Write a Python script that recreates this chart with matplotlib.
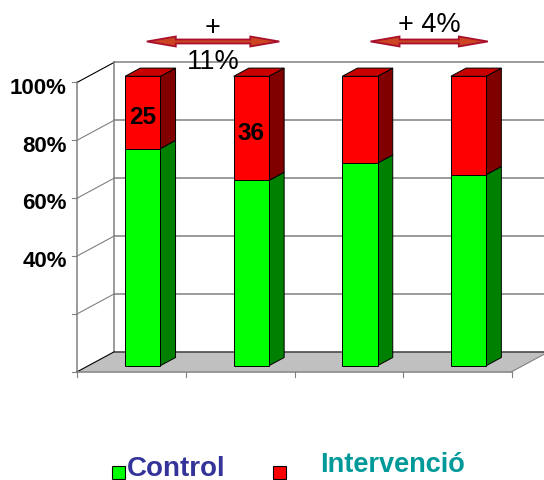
"""
Gràfic de barres apilades (100%) amb aspecte 3D: Control vs Intervenció.
"""

import matplotlib
matplotlib.use("Agg")
import matplotlib.pyplot as plt
from matplotlib.patches import Polygon, Rectangle

plt.rcParams["font.family"] = ["Liberation Sans", "DejaVu Sans"]

# Dades
grups = [0, 1, 2, 3]
control = [75, 64, 70, 66]
intervencio = [25, 36, 30, 34]
etiquetes_barres = ["25", "36", "", ""]
y_ticks = [0, 20, 40, 60, 80, 100]
y_labels = ["", "", "40%", "60%", "80%", "100%"]
diferencies = ["+\n11%", "+ 4%"]

# Colors
VERD = "#00FF00"
VERD_COSTAT = "#008000"
VERMELL = "#FF0000"
VERMELL_SOSTRE = "#C80000"
VERMELL_COSTAT = "#800000"
GRIS_TERRA = "#C0C0C0"
GRIS_LINIA = "#808080"
FLETXA = "#A8102C"
FLETXA_INT = "#CC4422"

# Profunditat (en unitats de dades) i geometria de les barres
DX, DY = 0.341, 6.91
F0, F1 = 0.30, 0.71
AMPLE = 0.325
# escala aproximada: 1 píxel en unitats x / y
PX_X, PX_Y = 1 / 108.6, 1 / 2.894


def px(x, y):
    """Píxels de la imatge -> coordenades de la figura."""
    return x / 544, 1 - y / 481


def cara(ax, punts, color, z=3):
    ax.add_patch(Polygon(punts, closed=True, facecolor=color, edgecolor="black",
                         linewidth=0.7, zorder=z))


def barra_3d(ax, xc, y0, y1, c_front, c_costat, c_sostre=None):
    ox0, oy0 = F0 * DX, F0 * DY
    ox1, oy1 = F1 * DX, F1 * DY
    xl, xr = xc - AMPLE / 2 + ox0, xc + AMPLE / 2 + ox0
    # costat dret
    cara(ax, [(xr, y0 + oy0), (xr + ox1 - ox0, y0 + oy1),
              (xr + ox1 - ox0, y1 + oy1), (xr, y1 + oy0)], c_costat)
    # cara frontal
    cara(ax, [(xl, y0 + oy0), (xr, y0 + oy0), (xr, y1 + oy0), (xl, y1 + oy0)], c_front)
    if c_sostre:
        cara(ax, [(xl, y1 + oy0), (xr, y1 + oy0), (xr + ox1 - ox0, y1 + oy1),
                  (xl + ox1 - ox0, y1 + oy1)], c_sostre)


def fletxa_doble(ax, xa, xb, y, llarg=29, alt=5, gruix=2):
    hl, hh, sh = llarg * PX_X, alt * PX_Y, gruix * PX_Y
    punts = [(xa, y), (xa + hl, y + hh), (xa + hl, y + sh), (xb - hl, y + sh),
             (xb - hl, y + hh), (xb, y), (xb - hl, y - hh), (xb - hl, y - sh),
             (xa + hl, y - sh), (xa + hl, y - hh)]
    ax.add_patch(Polygon(punts, closed=True, facecolor=FLETXA_INT, edgecolor=FLETXA,
                         linewidth=1.3, joinstyle="miter", zorder=6))


fig = plt.figure(figsize=(5.44, 4.81), dpi=100)
ax = fig.add_axes([0, 0, 1, 1])
ax.set_xlim(-1.2118, 3.7974)
ax.set_ylim(-37.42, 128.78)
ax.axis("off")

x_min, x_max = grups[0] - 0.5, grups[-1] + 0.5
lw = 0.8

# Terra gris
ax.add_patch(Polygon([(x_min, 0), (x_max, 0), (x_max + DX, DY), (x_min + DX, DY)],
                     facecolor=GRIS_TERRA, edgecolor="none", zorder=1))

# Graella a la paret del fons i a la paret esquerra
for v in y_ticks[1:]:
    ax.plot([x_min + DX, x_max + DX + 1], [v + DY, v + DY], color=GRIS_LINIA, lw=1.1, zorder=1)
    ax.plot([x_min - 0.05, x_min], [v, v], color=GRIS_LINIA, lw=lw, zorder=1)
    col = "black" if v == 100 else GRIS_LINIA
    ax.plot([x_min, x_min + DX], [v, v + DY], color=col, lw=lw, zorder=1)
ax.plot([x_min - 0.05, x_min], [0, 0], color=GRIS_LINIA, lw=lw, zorder=1)

# Vores de les parets i del terra
ax.plot([x_min, x_min], [0, 100], color=GRIS_LINIA, lw=1.1, zorder=2)
ax.plot([x_min + DX, x_min + DX], [DY, 100 + DY], color=GRIS_LINIA, lw=1.1, zorder=2)
ax.plot([x_min, x_min + DX], [0, DY], color="black", lw=lw, zorder=2)
ax.plot([x_min + DX, x_max + DX + 1], [DY, DY], color="#404040", lw=1.1, zorder=2)
ax.plot([x_min, x_max], [0, 0], color=GRIS_LINIA, lw=1.1, zorder=2)
ax.plot([x_max, x_max + DX], [0, DY], color=GRIS_LINIA, lw=lw, zorder=2)
for g in grups + [grups[-1] + 1]:
    ax.plot([g - 0.5, g - 0.5], [0, -1.9], color=GRIS_LINIA, lw=lw, zorder=2)

# Etiquetes de l'eix Y
for v, lab in zip(y_ticks, y_labels):
    if lab:
        ax.text(x_min - 0.095, v - 1.7, lab, ha="right", va="center",
                fontsize=16, fontweight="bold")

# Barres apilades
for g, c, i, lab in zip(grups, control, intervencio, etiquetes_barres):
    barra_3d(ax, g, 0, c, VERD, VERD_COSTAT)
    barra_3d(ax, g, c, c + i, VERMELL, VERMELL_COSTAT, VERMELL_SOSTRE)
    if lab:
        ax.text(g + F0 * DX, c + i / 2 + F0 * DY - 1.5, lab, ha="center", va="center",
                fontsize=17.5, fontweight="bold", zorder=5)

# Fletxes de diferència
fletxes = [((0.14, 1.36), diferencies[0]), ((2.2, 3.28), diferencies[1])]
for (xa, xb), txt in fletxes:
    fletxa_doble(ax, xa, xb, 114.1)
    xm = (xa + xb) / 2
    if "\n" in txt:
        ax.text(xm, 113.3, txt, ha="center", va="center", fontsize=19.5,
                linespacing=1.42, zorder=7)
    else:
        ax.text(xm, 120.3, txt, ha="center", va="center", fontsize=19.5, zorder=7)

# Llegenda
fig.add_artist(Rectangle(px(112, 480), 13 / 544, 13 / 481, transform=fig.transFigure,
                         facecolor=VERD, edgecolor="black", lw=0.8))
fig.text(*px(127, 476), "Control", ha="left", va="baseline", fontsize=20,
         fontweight="bold", color="#333399")
fig.add_artist(Rectangle(px(273, 480), 13 / 544, 13 / 481, transform=fig.transFigure,
                         facecolor=VERMELL, edgecolor="black", lw=0.8))
fig.text(*px(320, 472), "Intervenció", ha="left", va="baseline", fontsize=19.5,
         fontweight="bold", color="#009999")

fig.savefig("out.png", dpi=100)
